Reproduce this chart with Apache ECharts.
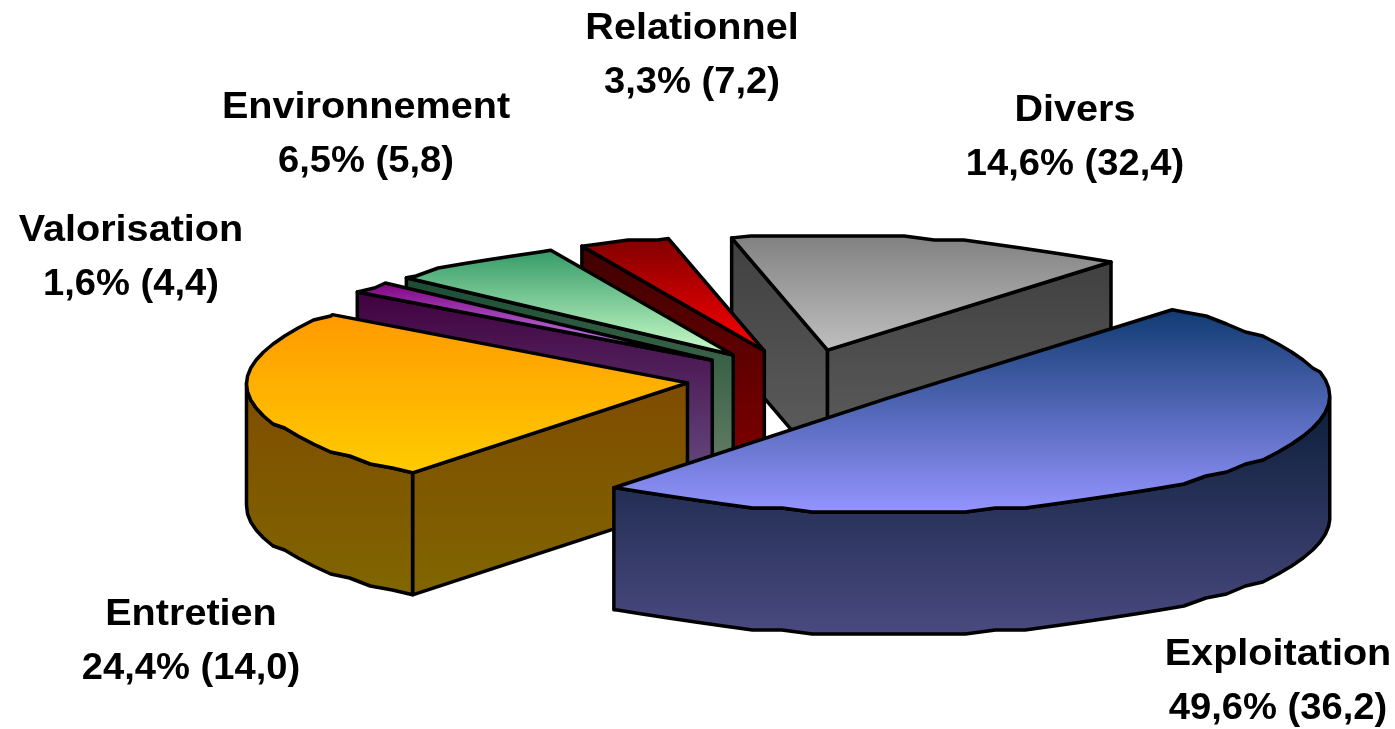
<!DOCTYPE html>
<html>
<head>
<meta charset="utf-8">
<style>
  html, body { margin: 0; padding: 0; background: #fff; }
  #chart { width: 1395px; height: 729px; }
</style>
</head>
<body>
<div id="chart"></div>
<script src="https://cdn.jsdelivr.net/npm/echarts@6/dist/echarts.min.js"></script>
<script>
// clockwise from the big slice
var categories = ['Exploitation', 'Entretien', 'Valorisation', 'Environnement', 'Relationnel', 'Divers']
var shares = [49.6, 24.4, 1.6, 6.5, 3.3, 14.6]
var bracketValues = [36.2, 14.0, 4.4, 5.8, 7.2, 32.4]

// gradient of each top face, top colour then bottom colour
var topColors = [
  ['#103a70', '#9595ff'],
  ['#ff9900', '#ffcc00'],
  ['#800080', '#cc99ff'],
  ['#339966', '#ccffcc'],
  ['#800000', '#ff0000'],
  ['#808080', '#c0c0c0']
]
var wallColors = [
  ['#0b1d38', '#4a4a80'],
  ['#7f4c00', '#806600'],
  ['#400040', '#664c80'],
  ['#1a4c33', '#668066'],
  ['#400000', '#800000'],
  ['#404040', '#606060']
]

// pie projection
var center = [800.5, 379]
var radiusX = 441
var radiusY = 115
var depth = 122
var explode = 114
var startAngle = -50
var edgeGrid = 4 // the original's arcs are rough, snap them to a coarse grid
var arcStep = 4
var labelCenters = [[1278, 682], [191, 642], [131, 258], [366, 135], [692, 56], [1075, 138]]
var nameStretch = 1.1
var valueStretch = 1.06
var lineGap = 27

var rad = Math.PI / 180
var total = shares.reduce((p, c) => p + c, 0)

function sliceAngles(index) {
  var before = shares.slice(0, index).reduce((p, c) => p + c, 0)
  var from = startAngle + before / total * 360
  return [from, from + shares[index] / total * 360]
}

function rimPoint(c, angle, snap) {
  var a = angle * rad
  var y = c[1] + radiusY * Math.sin(a)
  return [c[0] + radiusX * Math.cos(a), snap ? Math.round(y / edgeGrid) * edgeGrid : y]
}

// samples sit on whole multiples of arcStep so wall and top share their rim
function arcPoints(c, from, to) {
  var pts = [rimPoint(c, from, false)]
  for (var a = Math.ceil(from / arcStep + 0.01) * arcStep; a < to; a += arcStep) {
    pts.push(rimPoint(c, a, true))
  }
  pts.push(rimPoint(c, to, false))
  return pts
}

function gradient(colors) {
  return new echarts.graphic.LinearGradient(0, 0, 0, 1, [
    { offset: 0, color: colors[0] },
    { offset: 1, color: colors[1] }
  ])
}

function face(points, colors, z2) {
  return {
    type: 'polygon',
    z2: z2,
    shape: { points: points },
    style: { fill: gradient(colors), stroke: '#000', lineWidth: 3.5, lineJoin: 'round' }
  }
}

function drop(points) {
  return points.map(p => [p[0], p[1] + depth]).reverse()
}

function textLine(text, x, y, stretch) {
  return {
    type: 'text',
    z2: 200,
    x: x,
    y: y,
    scaleX: stretch,
    style: {
      text: text,
      align: 'center',
      verticalAlign: 'middle',
      fontFamily: '"Liberation Sans", Arial, sans-serif',
      fontWeight: 'bold',
      fontSize: 36,
      fill: '#000'
    }
  }
}

function renderSlice(params, api) {
  var i = params.dataIndex
  var angles = sliceAngles(i)
  var from = angles[0]
  var to = angles[1]
  var mid = (from + to) / 2 * rad
  var c = [
    center[0] + explode * Math.cos(mid),
    center[1] + explode * Math.sin(mid) * radiusY / radiusX
  ]
  var layer = (categories.length - i) * 10
  var colors = wallColors[i]
  var children = []

  var rimFrom = rimPoint(c, from, false)
  var rimTo = rimPoint(c, to, false)

  // only the walls that face the viewer
  if (Math.cos(from * rad) < 0) {
    children.push(face([c, rimFrom].concat(drop([c, rimFrom])), colors, layer))
  }
  if (Math.cos(to * rad) > 0) {
    children.push(face([c, rimTo].concat(drop([c, rimTo])), colors, layer))
  }
  var outerFrom = Math.max(from, 0)
  var outerTo = Math.min(to, 180)
  if (outerTo > outerFrom) {
    var rim = arcPoints(c, outerFrom, outerTo)
    children.push(face(rim.concat(drop(rim)), colors, layer + 1))
  }
  children.push(face([c].concat(arcPoints(c, from, to)), topColors[i], layer + 2))

  var valueText = String(api.value(0)).replace('.', ',') + '% (' +
    bracketValues[i].toFixed(1).replace('.', ',') + ')'
  children.push(textLine(categories[i], labelCenters[i][0], labelCenters[i][1] - lineGap, nameStretch))
  children.push(textLine(valueText, labelCenters[i][0], labelCenters[i][1] + lineGap, valueStretch))
  return { type: 'group', children: children }
}

var myChart = echarts.init(document.getElementById('chart'))
myChart.setOption({
  animation: false,
  series: [{
    type: 'custom',
    coordinateSystem: 'none',
    silent: true,
    renderItem: renderSlice,
    data: shares.map(v => [v])
  }]
})
</script>
</body>
</html>
